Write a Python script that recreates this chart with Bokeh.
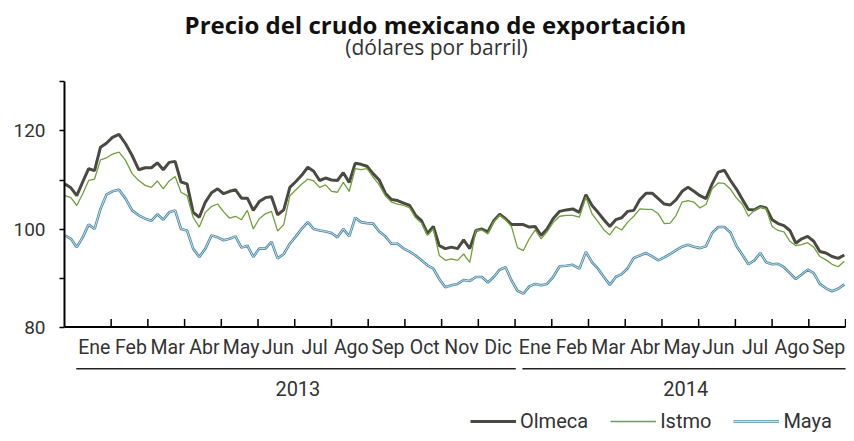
import pandas as pd
from bokeh.plotting import figure
from bokeh.models import Legend, LegendItem, FixedTicker, Range1d, ColumnDataSource
from bokeh.core.properties import value
from bokeh.embed import file_html
from bokeh.resources import INLINE

# ---------------- data ----------------
meses = ["Ene", "Feb", "Mar", "Abr", "May", "Jun", "Jul", "Ago", "Sep", "Oct", "Nov", "Dic",
         "Ene", "Feb", "Mar", "Abr", "May", "Jun", "Jul", "Ago", "Sep"]
anios = ["2013", "2014"]
meses_por_anio = [12, 9]

# observations every 5 days
fechas = pd.date_range("2012-12-24", periods=130, freq="5D")

olmeca = [109.2, 108.4, 106.8, 109.6, 112.3, 111.9, 116.7, 117.5, 118.7, 119.3,
          117.4, 115.0, 112.1, 112.5, 112.5, 113.5, 112.1, 113.6, 113.8, 109.6,
          109.2, 103.4, 102.4, 105.5, 107.4, 108.2, 107.2, 107.7, 108.0, 106.3,
          106.3, 103.8, 105.6, 106.4, 106.6, 102.9, 103.9, 108.5, 109.7, 111.0,
          112.6, 111.8, 109.9, 110.4, 110.0, 109.9, 111.5, 109.5, 113.4, 113.2,
          112.8, 111.3, 110.0, 107.3, 106.0, 105.8, 105.3, 104.8, 102.8, 101.7,
          99.1, 100.5, 96.6, 96.0, 96.3, 96.0, 97.8, 96.0, 99.7, 100.0,
          99.4, 101.7, 103.0, 102.1, 100.9, 100.9, 100.9, 100.4, 100.5, 98.7,
          100.0, 102.1, 103.6, 103.9, 104.1, 103.4, 107.0, 104.8, 103.4, 101.9,
          100.5, 101.9, 102.3, 103.6, 103.8, 106.0, 107.3, 107.3, 106.2, 105.1,
          104.9, 106.0, 107.7, 108.5, 107.7, 106.8, 106.2, 109.2, 111.6, 112.0,
          109.9, 108.1, 106.0, 104.0, 103.9, 104.6, 104.3, 101.9, 101.1, 100.7,
          99.7, 97.1, 98.0, 98.5, 97.5, 95.4, 95.1, 94.4, 94.0, 94.7]

istmo = [106.8, 106.4, 104.8, 107.2, 109.9, 110.2, 114.1, 114.5, 115.3, 115.7,
         114.0, 111.3, 109.9, 108.9, 108.5, 109.8, 108.2, 109.8, 110.7, 107.5,
         106.8, 102.4, 100.4, 103.4, 104.6, 105.1, 103.5, 102.2, 102.6, 101.9,
         103.8, 100.0, 102.1, 103.1, 103.6, 99.6, 100.9, 106.8, 108.0, 109.2,
         110.2, 109.8, 108.5, 109.0, 107.7, 107.5, 109.5, 107.7, 112.3, 112.1,
         112.3, 110.6, 109.0, 106.8, 105.5, 105.1, 104.8, 104.3, 102.3, 101.2,
         98.7, 100.0, 94.6, 93.6, 93.9, 93.6, 94.9, 93.2, 99.7, 99.8,
         99.0, 101.5, 102.8, 101.9, 100.5, 96.2, 95.6, 98.0, 99.8, 98.0,
         99.4, 101.3, 102.6, 102.8, 102.8, 102.4, 106.5, 103.1, 101.5, 99.8,
         98.8, 100.5, 99.8, 101.4, 102.6, 104.1, 104.0, 104.0, 103.1, 101.1,
         101.2, 102.8, 105.5, 105.8, 105.5, 104.3, 105.0, 108.2, 109.4, 109.3,
         108.1, 106.3, 105.0, 102.6, 103.8, 104.5, 104.1, 100.5, 99.7, 99.4,
         97.5, 96.6, 96.8, 97.2, 96.3, 94.4, 93.7, 92.8, 92.3, 93.4]

maya = [98.7, 98.0, 96.3, 98.3, 100.9, 100.0, 104.1, 107.0, 107.7, 108.0,
        106.2, 103.8, 102.8, 102.1, 101.7, 103.0, 101.9, 103.4, 103.8, 100.0,
        99.7, 96.0, 94.3, 96.0, 98.7, 98.3, 97.7, 98.0, 98.5, 96.2,
        96.6, 94.3, 96.0, 96.0, 97.4, 94.0, 94.9, 97.0, 98.5, 100.1,
        101.4, 100.0, 99.7, 99.5, 99.2, 98.3, 100.0, 98.5, 102.3, 101.4,
        101.2, 101.1, 99.5, 98.5, 97.0, 97.0, 96.0, 95.4, 94.6, 93.6,
        92.6, 91.9, 89.8, 88.1, 88.5, 88.8, 89.6, 89.4, 90.2, 90.2,
        89.1, 90.2, 91.7, 92.2, 89.5, 87.4, 86.8, 88.3, 88.8, 88.5,
        88.8, 90.2, 92.4, 92.5, 92.7, 91.9, 95.3, 93.2, 91.9, 90.2,
        88.6, 90.2, 90.8, 92.0, 94.1, 94.6, 95.1, 94.4, 93.6, 94.2,
        94.9, 95.7, 96.4, 96.8, 96.4, 96.1, 96.5, 99.2, 100.4, 100.4,
        99.3, 96.5, 94.7, 92.8, 93.6, 95.1, 93.2, 92.8, 92.9, 92.2,
        91.0, 89.8, 90.7, 91.7, 91.0, 88.8, 87.9, 87.3, 87.8, 88.7]


def pos_mes(d):
    # position in month units, 0 = 1 Jan 2013, each month equally wide
    return (d.year - 2013) * 12 + (d.month - 1) + (d.day - 1) / d.days_in_month


x = [pos_mes(d) for d in fechas]
src = ColumnDataSource(dict(x=x, olmeca=olmeca, istmo=istmo, maya=maya))

# ---------------- style ----------------
FONT = "Roboto"
TFONT = "Open Sans"
TXT = "#333333"
PX = 4.9            # pixels per dollar
n_meses = len(meses)

p = figure(width=846, height=433, output_backend="svg", toolbar_location=None,
           x_range=Range1d(-0.2703, 21.026), y_range=Range1d(58.27, 146.63),
           x_axis_type=None,
           min_border_left=64, min_border_right=0, min_border_top=0, min_border_bottom=0)
p.outline_line_color = None
p.grid.visible = False
p.background_fill_color = "white"
p.border_fill_color = "white"

ya = p.yaxis[0]
ya.bounds = (80, 130)
ya.ticker = FixedTicker(ticks=[80, 100, 120], minor_ticks=[90, 110, 130])
ya.axis_line_width = 2
ya.axis_line_color = "black"
ya.major_tick_line_color = "black"
ya.minor_tick_line_color = "black"
ya.major_tick_line_width = 1.5
ya.minor_tick_line_width = 1.5
ya.major_tick_out = 5
ya.major_tick_in = 0
ya.minor_tick_out = 5
ya.minor_tick_in = 0
ya.major_label_standoff = 14
ya.major_label_text_font = FONT
ya.major_label_text_font_size = "19px"
ya.major_label_text_color = TXT

# series
r_olm = p.line("x", "olmeca", source=src, line_color="#4a4a42", line_width=3)
r_ist = p.line("x", "istmo", source=src, line_color="#72a03c", line_width=1.3)
r_may_o = p.line("x", "maya", source=src, line_color="#4d89a4", line_width=2.6)
r_may_i = p.line("x", "maya", source=src, line_color="#c6e0ea", line_width=1.0)

# x axis line and month ticks
x_ini = p.x_range.start
p.segment(x0=[x_ini], y0=[80], x1=[n_meses], y1=[80], line_color="black", line_width=2)
tk = list(range(1, n_meses + 1))
p.segment(x0=tk, y0=[80] * len(tk), x1=tk, y1=[80 + 8 / PX] * len(tk),
          line_color="black", line_width=1.5)

# month labels
p.text(x=[i + 0.54 for i in range(n_meses)], y=[75.81] * n_meses, text=meses,
       text_align="center", text_baseline="alphabetic",
       text_font=value(FONT), text_font_size=value("19.5px"), text_color=TXT)

# year groups
ini, fin = [], []
acc = 0
for n in meses_por_anio:
    ini.append(acc)
    acc += n
    fin.append(acc)
y0s = [ini[0] + 0.05, ini[1] + 0.2]
y1s = [fin[0] + 0.02, fin[1]]
p.segment(x0=y0s, y0=[71.47] * 2, x1=y1s, y1=[71.47] * 2, line_color="#222222", line_width=1.6)
p.text(x=[(a + b) / 2 + 0.05 for a, b in zip(y0s, y1s)], y=[67.45] * 2, text=anios,
       text_align="center", text_baseline="alphabetic",
       text_font=value(FONT), text_font_size=value("20px"), text_color=TXT)

# titles
p.text(x=[9.83], y=[141.73], text=["Precio del crudo mexicano de exportación"],
       text_align="center", text_baseline="alphabetic", text_font=value(TFONT),
       text_font_size=value("24px"), text_font_style="bold", text_color="#111111")
p.text(x=[9.86], y=[137.24], text=["(dólares por barril)"],
       text_align="center", text_baseline="alphabetic", text_font=value(TFONT),
       text_font_size=value("21px"), text_color=TXT)

legend = Legend(items=[LegendItem(label="Olmeca", renderers=[r_olm]),
                       LegendItem(label="Istmo", renderers=[r_ist]),
                       LegendItem(label="Maya", renderers=[r_may_o, r_may_i])],
                location=(406, 0), orientation="horizontal",
                border_line_color=None, background_fill_alpha=0,
                padding=0, margin=0, spacing=22, glyph_width=46, glyph_height=20,
                label_standoff=4, label_text_font=FONT, label_text_font_size="20px",
                label_text_color=TXT)
p.add_layout(legend)

open("out.html", "w").write(file_html(p, INLINE))
